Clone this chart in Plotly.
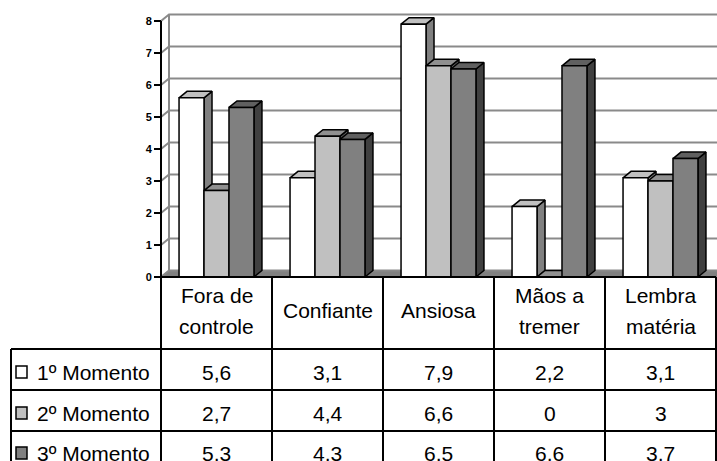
import plotly.graph_objects as go

# ---- data -------------------------------------------------------------
categories = ["Fora de\ncontrole", "Confiante", "Ansiosa", "Mãos a\ntremer", "Lembra\nmatéria"]
series_names = ["1º Momento", "2º Momento", "3º Momento"]
momento_1 = [5.6, 3.1, 7.9, 2.2, 3.1]
momento_2 = [2.7, 4.4, 6.6, 0, 3]
momento_3 = [5.3, 4.3, 6.5, 6.6, 3.7]
y_ticks = [0, 1, 2, 3, 4, 5, 6, 7, 8]

series_values = [momento_1, momento_2, momento_3]
# front / top / side shades of each 3-D column
shades = [
    ("#ffffff", "#c0c0c0", "#808080"),
    ("#c0c0c0", "#909090", "#606060"),
    ("#808080", "#606060", "#404040"),
]

# ---- page geometry (pixels) ------------------------------------------
W, H = 717, 461
AX_LEFT = 161          # front vertical axis
COL_W = 111            # width of one category / table column
ZERO_PY = 277          # value 0 on the front plane
UNIT_PY = 32           # pixels per unit
DEPTH = (8, 6.5)       # 3-D depth offset (right, up)

x_lo = -0.5 - AX_LEFT / COL_W
x_hi = x_lo + W / COL_W
y_hi = ZERO_PY / UNIT_PY
y_lo = y_hi - H / UNIT_PY
dx = DEPTH[0] / COL_W
dy = DEPTH[1] / UNIT_PY
n_cat = len(categories)
y_max = max(y_ticks)


def px(x):
    return x / W


def py(y):
    return 1 - y / H


fig = go.Figure()
GRID = "#8a8a8a"


def poly(xs, ys, fill, line_color="black", width=1.5):
    fig.add_trace(go.Scatter(
        x=xs, y=ys, mode="lines", fill="toself", fillcolor=fill,
        line=dict(color=line_color, width=width), hoverinfo="skip",
        showlegend=False))


def seg(xs, ys, color, width):
    fig.add_trace(go.Scatter(
        x=xs, y=ys, mode="lines", line=dict(color=color, width=width),
        hoverinfo="skip", showlegend=False))


# floor
poly([-0.5, n_cat - 0.5, n_cat - 0.5 + dx, -0.5 + dx, -0.5],
     [0, 0, dy, dy, 0], "#808080", line_color="#808080", width=1)

# back-wall and side-wall gridlines
gx, gy = [], []
for t in y_ticks:
    gx += [-0.5, -0.5 + dx, x_hi + 1, None]
    gy += [t, t + dy, t + dy, None]
gx += [-0.5 + dx, -0.5 + dx]
gy += [dy, y_max + dy]
seg(gx, gy, GRID, 2)

# 3-D columns
bw = 0.225
for k, (vals, (c_front, c_top, c_side)) in enumerate(zip(series_values, shades)):
    fx, fy, tx, ty, sx, sy = [], [], [], [], [], []
    for i, h in enumerate(vals):
        l = i - 1.5 * bw + k * bw
        r = l + bw
        fx += [l, r, r, l, l, None]
        fy += [0, 0, h, h, 0, None]
        tx += [l, r, r + dx, l + dx, l, None]
        ty += [h, h, h + dy, h + dy, h, None]
        sx += [r, r + dx, r + dx, r, r, None]
        sy += [0, dy, h + dy, h, 0, None]
    poly(sx, sy, c_side)
    poly(tx, ty, c_top)
    poly(fx, fy, c_front)

# front axis line
seg([-0.5, -0.5], [0, y_max], "black", 2)

# ---- data table ------------------------------------------------------
row_lines = [349, 390, 431, 472]
col_edges = [AX_LEFT + j * COL_W for j in range(n_cat + 1)]
LEG_LEFT = 11
shapes = []
line = dict(color="black", width=2)
shapes.append(dict(type="line", xref="paper", yref="paper",
                   x0=px(AX_LEFT), x1=px(col_edges[-1]), y0=py(ZERO_PY), y1=py(ZERO_PY), line=line))
for r_y in row_lines:
    shapes.append(dict(type="line", xref="paper", yref="paper",
                       x0=px(LEG_LEFT), x1=px(col_edges[-1]), y0=py(r_y), y1=py(r_y), line=line))
for c_x in col_edges:
    shapes.append(dict(type="line", xref="paper", yref="paper",
                       x0=px(c_x), x1=px(c_x), y0=py(ZERO_PY), y1=py(row_lines[-1]), line=line))
shapes.append(dict(type="line", xref="paper", yref="paper",
                   x0=px(LEG_LEFT), x1=px(LEG_LEFT), y0=py(row_lines[0]), y1=py(row_lines[-1]), line=line))

FONT = dict(family="Arial, Liberation Sans, sans-serif", size=21, color="black")
annotations = []

# header cells
for i, cat in enumerate(categories):
    parts = cat.split("\n")
    centers = [295, 326] if len(parts) == 2 else [310]
    for text, cy in zip(parts, centers):
        annotations.append(dict(x=i, xref="x", y=py(cy), yref="paper", text=text,
                                showarrow=False, xanchor="center", yanchor="middle", font=FONT))


def fmt(v):
    return str(int(v)) if float(v).is_integer() else str(v).replace(".", ",")


row_centers = [372, 413, 453]
for k, (name, vals) in enumerate(zip(series_names, series_values)):
    cy = row_centers[k]
    shapes.append(dict(type="rect", xref="paper", yref="paper",
                       x0=px(16), x1=px(27), y0=py(cy - 6), y1=py(cy + 6),
                       fillcolor=shades[k][0], line=dict(color="black", width=1.5)))
    annotations.append(dict(x=px(35), xref="paper", y=py(cy), yref="paper", text=name,
                            showarrow=False, xanchor="left", yanchor="middle", font=FONT))
    for i, v in enumerate(vals):
        annotations.append(dict(x=i, xref="x", y=py(cy), yref="paper", text=fmt(v),
                                showarrow=False, xanchor="center", yanchor="middle", font=FONT))

fig.update_layout(
    width=W, height=H,
    margin=dict(l=0, r=0, t=0, b=0),
    paper_bgcolor="white", plot_bgcolor="white",
    showlegend=False,
    xaxis=dict(range=[x_lo, x_hi], visible=False, domain=[0, 1], fixedrange=True),
    yaxis=dict(range=[y_lo, y_hi], domain=[0, 1], anchor="free", position=px(AX_LEFT),
               tickvals=y_ticks, ticks="outside", ticklen=7, tickwidth=2, tickcolor="black",
               showgrid=False, zeroline=False, showline=False, fixedrange=True,
               tickfont=dict(family="Arial, Liberation Sans, sans-serif", size=11,
                             color="black", weight="bold")),
    shapes=shapes,
    annotations=annotations,
)

fig.write_html("out.html")
